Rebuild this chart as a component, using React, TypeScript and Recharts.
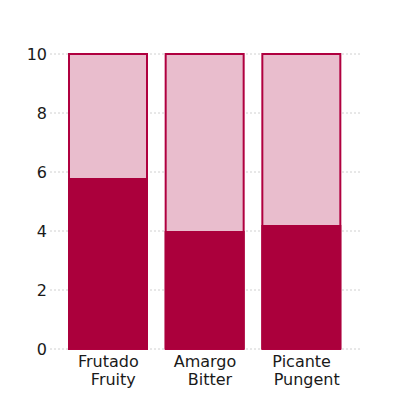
import { Bar, BarChart, CartesianGrid, XAxis, YAxis } from "recharts";

const categories = ["Frutado\nFruity", "Amargo\nBitter", "Picante\nPungent"];
const scores = [5.8, 4.0, 4.2];
const maxScore = [10, 10, 10];
const yTicks = [0, 2, 4, 6, 8, 10];

const data = categories.map((name, i) => ({ name, score: scores[i], max: maxScore[i] }));

const TwoLineTick = (props: any) => {
  const { x, y, payload } = props;
  const lines = String(payload.value).split("\n");
  return (
    <text x={x} y={y} textAnchor="middle" fill="#1a1a1a" fontSize={16} fontFamily="DejaVu Sans">
      {lines.map((l, i) => (
        <tspan key={i} x={x + (i === 0 ? 0 : 5)} dy={i === 0 ? 10 : 18}>{l}</tspan>
      ))}
    </text>
  );
};

export default function App() {
  return (
    <BarChart
      width={400}
      height={400}
      data={data}
      margin={{ top: 46, right: 48, left: 0, bottom: 0 }}
      style={{ fontFamily: "DejaVu Sans" }}
    >
      <CartesianGrid vertical={false} stroke="#d0d0d0" strokeDasharray="2 2" />
      <XAxis
        xAxisId="bg"
        dataKey="name"
        axisLine={false}
        tickLine={false}
        height={59}
        padding={{ left: 10, right: 10 }}
        tick={<TwoLineTick />}
        interval={0}
      />
      <XAxis xAxisId="fg" dataKey="name" hide padding={{ left: 10, right: 10 }} />
      <YAxis
        domain={[0, 10]}
        ticks={yTicks}
        axisLine={false}
        tickLine={false}
        tickSize={0}
        tickMargin={3}
        width={42}
        tick={{ fill: "#1a1a1a", fontSize: 16 }}
      />
      <Bar xAxisId="bg" dataKey="max" fill="#e9bdcd" stroke="#b0003f" strokeWidth={2} barSize={78} isAnimationActive={false} />
      <Bar xAxisId="fg" dataKey="score" fill="#ab003c" barSize={80} isAnimationActive={false} />
    </BarChart>
  );
}
